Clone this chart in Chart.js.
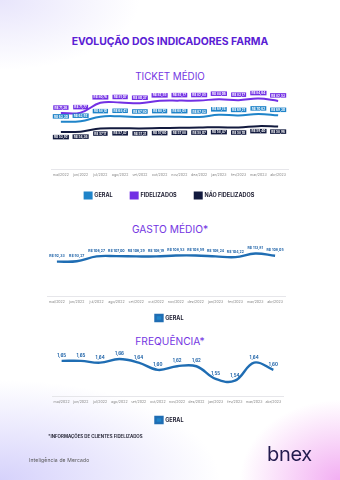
<!DOCTYPE html>
<html lang="pt-BR">
<head>
<meta charset="utf-8">
<title>Evolução dos indicadores farma</title>
<script src="https://cdn.jsdelivr.net/npm/chart.js@4.4.1/dist/chart.umd.min.js"></script>
<style>
  html, body { margin: 0; padding: 0; }
  body {
    width: 340px; height: 480px; position: relative; overflow: hidden;
    font-family: Inter, "Open Sans", sans-serif;
    background:
      radial-gradient(ellipse 100px 80px at 100% 100%, rgba(240,160,240,0.85), rgba(240,160,240,0) 100%),
      radial-gradient(ellipse 220px 100px at 0% 100%, rgba(200,195,250,0.75), rgba(200,195,250,0) 100%),
      radial-gradient(ellipse 140px 70px at 0% 0%, rgba(222,218,250,0.7), rgba(222,218,250,0) 100%),
      #ffffff;
  }
  .abs { position: absolute; white-space: nowrap; }
  canvas { position: absolute; left: 0; }
  .main-title { top: 35px; left: 0; width: 340px; text-align: center; font-weight: 700; font-size: 10.4px; color: #5a20d4; }
  .sub-title { left: 0; width: 340px; text-align: center; font-weight: 400; font-size: 9.8px; color: #7436e2; }
  .note { top: 434px; left: 48px; font-weight: 700; font-size: 4.4px; color: #2a2a3a; }
  .dept { top: 457px; left: 29px; font-size: 5px; color: #555; letter-spacing: 0.15px; }
  .logo { top: 442px; left: 267px; font-size: 20px; font-weight: 400; color: #221a4e; letter-spacing: -0.3px; }
</style>
</head>
<body>
<div class="abs main-title">EVOLUÇÃO DOS INDICADORES FARMA</div>
<div class="abs sub-title" style="top:71px">TICKET MÉDIO</div>
<div class="abs sub-title" style="top:223px;font-size:10.2px">GASTO MÉDIO*</div>
<div class="abs sub-title" style="top:335px;font-size:10.2px">FREQUÊNCIA*</div>

<canvas id="ticket" width="340" height="134" style="top:80px"></canvas>
<canvas id="gasto" width="340" height="105" style="top:226px"></canvas>
<canvas id="freq" width="340" height="93" style="top:340px"></canvas>

<div class="abs note">*INFORMAÇÕES DE CLIENTES FIDELIZADOS</div>
<div class="abs dept">Inteligência de Mercado</div>
<div class="abs logo">bnex</div>

<script>
// Months shown on every x axis
const months = ['mai/2022','jun/2022','jul/2022','ago/2022','set/2022','out/2022',
                'nov/2022','dez/2022','jan/2023','fev/2023','mar/2023','abr/2023'];

// Ticket médio (R$) per customer group
const ticketGeral        = [63.30, 63.92, 68.10, 68.41, 67.80, 68.12, 68.05, 67.83, 69.74, 69.21, 70.62, 69.30];
const ticketFidelizados  = [71.36, 71.77, 80.76, 81.07, 80.37, 82.55, 82.77, 82.85, 84.06, 83.17, 84.64, 82.53];
const ticketNaoFideliz   = [53.92, 54.36, 57.17, 57.42, 57.31, 57.60, 57.88, 58.07, 58.47, 58.10, 59.40, 58.96];

// Gasto médio (R$) and frequência of loyal customers
const gastoGeral = [92.33, 93.27, 106.27, 107.00, 106.29, 106.19, 108.53, 108.59, 106.24, 104.22, 113.81, 108.05];
const freqGeral  = [1.65, 1.65, 1.64, 1.66, 1.64, 1.60, 1.62, 1.62, 1.55, 1.54, 1.64, 1.60];

const COLORS = {
  geral: '#1f84c9',
  geralLine: '#1f6db3',
  fidel: '#7230e4',
  naoFidel: '#121a3e',
  text: '#1c1c30',
  tick: '#858585',
  axis: '#e6e6ea'
};
const FONT = 'Inter, "Open Sans", sans-serif';

const money = v => 'R$ ' + v.toFixed(2).replace('.', ',');
const dec2 = v => v.toFixed(2).replace('.', ',');

// Draws the value of each point, either as plain text or in a filled tag
const pointLabels = {
  id: 'pointLabels',
  afterDatasetsDraw(chart) {
    const ctx = chart.ctx;
    chart.data.datasets.forEach((ds, di) => {
      const cfg = ds.pointLabel;
      if (!cfg) return;
      const meta = chart.getDatasetMeta(di);
      meta.data.forEach((pt, i) => {
        const text = cfg.format(ds.data[i]);
        const cy = pt.y + cfg.offset;
        ctx.save();
        ctx.font = `700 ${cfg.size}px ${FONT}`;
        ctx.textAlign = 'center';
        ctx.textBaseline = 'middle';
        if (cfg.box) {
          const w = ctx.measureText(text).width + 2.4;
          const h = cfg.size + 1.4;
          ctx.fillStyle = cfg.box;
          ctx.fillRect(pt.x - w / 2, cy - h / 2, w, h);
          ctx.fillStyle = '#ffffff';
        } else {
          ctx.fillStyle = cfg.color;
        }
        ctx.fillText(text, pt.x, cy + 0.2);
        ctx.restore();
      });
    });
  }
};

// Moves the legend row after layout (keeps the wide item spacing)
const legendShift = {
  id: 'legendShift',
  afterLayout(chart, args, opts) {
    const lg = chart.legend;
    if (!lg) return;
    const dy = opts.dy || 0, dx = opts.dx || 0;
    lg.top += dy; lg.bottom += dy;
    lg.left += dx; lg.right += dx;
  }
};

function baseOptions(yMin, yMax, pad, legendPad, shift) {
  return {
    responsive: false,
    animation: false,
    layout: { padding: pad },
    plugins: {
      tooltip: { enabled: false },
      legendShift: shift || {},
      legend: {
        position: 'bottom',
        labels: {
          boxWidth: 7, boxHeight: 6, padding: legendPad,
          color: COLORS.text,
          font: { family: FONT, size: 5.5, weight: '700' }
        }
      }
    },
    elements: { point: { radius: 0 } },
    scales: {
      x: {
        offset: true,
        grid: { display: false, drawTicks: false },
        border: { display: true, color: COLORS.axis, width: 1 },
        ticks: { color: COLORS.tick, padding: 3, maxRotation: 0, autoSkip: false,
                 font: { family: FONT, size: 3.6 } }
      },
      y: { display: false, min: yMin, max: yMax }
    }
  };
}

new Chart(document.getElementById('ticket'), {
  type: 'line',
  data: {
    labels: months,
    datasets: [
      { label: 'GERAL', data: ticketGeral, borderColor: COLORS.geral, backgroundColor: COLORS.geral,
        borderWidth: 2, tension: 0.4,
        pointLabel: { format: money, offset: -5.5, size: 3.1, box: COLORS.geral } },
      { label: 'FIDELIZADOS', data: ticketFidelizados, borderColor: COLORS.fidel, backgroundColor: COLORS.fidel,
        borderWidth: 2, tension: 0.4,
        pointLabel: { format: money, offset: -5.5, size: 3.1, box: COLORS.fidel } },
      { label: 'NÃO FIDELIZADOS', data: ticketNaoFideliz, borderColor: COLORS.naoFidel, backgroundColor: COLORS.naoFidel,
        borderWidth: 2, tension: 0.4,
        pointLabel: { format: money, offset: 5, size: 3.1, box: COLORS.naoFidel } }
    ]
  },
  options: baseOptions(19.5, 92.5, { top: 10, left: 51, right: 52, bottom: 0 }, 18, { dy: -5.5, dx: 0 }),
  plugins: [pointLabels, legendShift]
});

new Chart(document.getElementById('gasto'), {
  type: 'line',
  data: {
    labels: months,
    datasets: [
      { label: 'GERAL', data: gastoGeral, borderColor: COLORS.geralLine, backgroundColor: COLORS.geral,
        borderWidth: 2.4, tension: 0.4,
        pointLabel: { format: money, offset: -5.6, size: 3.5, color: '#1f63a8' } }
    ]
  },
  options: baseOptions(0, 160, { top: 10, left: 47, right: 55, bottom: 0 }, 8, { dx: 3.5 }),
  plugins: [pointLabels, legendShift]
});

new Chart(document.getElementById('freq'), {
  type: 'line',
  data: {
    labels: months,
    datasets: [
      { label: 'GERAL', data: freqGeral, borderColor: COLORS.geralLine, backgroundColor: COLORS.geral,
        borderWidth: 2.4, tension: 0.4,
        pointLabel: { format: dec2, offset: -5.6, size: 4.4, color: '#1f63a8' } }
    ]
  },
  options: baseOptions(1.45, 1.71, { top: 10, left: 52, right: 57, bottom: 0 }, 9.7, { dx: 2 }),
  plugins: [pointLabels, legendShift]
});
</script>
</body>
</html>
